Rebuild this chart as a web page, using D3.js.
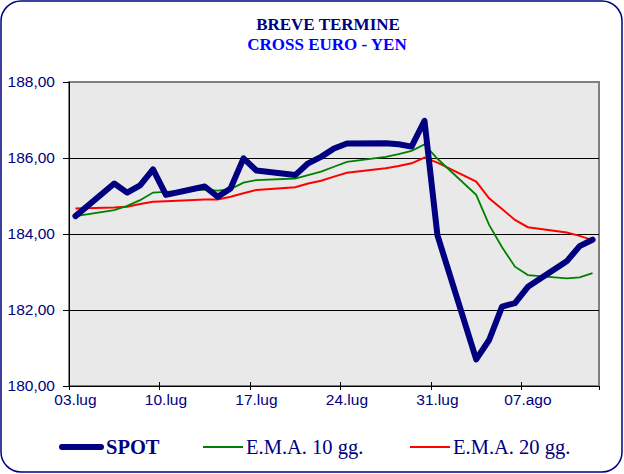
<!DOCTYPE html>
<html>
<head>
<meta charset="utf-8">
<script src="https://cdn.jsdelivr.net/npm/d3@7"></script>
<style>
  body { margin: 0; background: #fff; }
  svg { display: block; }
</style>
</head>
<body>
<div id="chart"></div>
<script>
// trading days (2026: 03 lug is a Friday)
var dates = ["2026-07-03",
  "2026-07-06", "2026-07-07", "2026-07-08", "2026-07-09", "2026-07-10",
  "2026-07-13", "2026-07-14", "2026-07-15", "2026-07-16", "2026-07-17",
  "2026-07-20", "2026-07-21", "2026-07-22", "2026-07-23", "2026-07-24",
  "2026-07-27", "2026-07-28", "2026-07-29", "2026-07-30", "2026-07-31",
  "2026-08-03", "2026-08-04", "2026-08-05", "2026-08-06", "2026-08-07",
  "2026-08-10", "2026-08-11", "2026-08-12"];

var spot = [184.47,
  185.33, 185.09, 185.28, 185.70, 185.03,
  185.25, 184.98, 185.20, 185.99, 185.67,
  185.55, 185.86, 186.03, 186.25, 186.38,
  186.39, 186.36, 186.30, 186.98, 183.97,
  180.70, 181.21, 182.09, 182.18, 182.61,
  183.28, 183.68, 183.85];

var ema10 = [184.47,
  184.63, 184.74, 184.89, 185.09, 185.11,
  185.17, 185.14, 185.18, 185.35, 185.42,
  185.46, 185.55, 185.64, 185.77, 185.90,
  186.03, 186.10, 186.19, 186.36, 185.98,
  185.03, 184.24, 183.65, 183.14, 182.92,
  182.83, 182.86, 182.97];

var ema20 = [184.67,
  184.70, 184.72, 184.79, 184.85, 184.86,
  184.91, 184.91, 184.98, 185.07, 185.16,
  185.23, 185.33, 185.40, 185.51, 185.61,
  185.73, 185.79, 185.86, 186.01, 185.88,
  185.38, 184.94, 184.66, 184.37, 184.18,
  184.04, 183.95, 183.84];

var xTickDates = ["2026-07-03", "2026-07-10", "2026-07-17", "2026-07-24", "2026-07-31", "2026-08-07"];
var xTickLabels = ["03.lug", "10.lug", "17.lug", "24.lug", "31.lug", "07.ago"];
var yTicks = [180, 182, 184, 186, 188];

var seriesNames = ["SPOT", "E.M.A. 10 gg.", "E.M.A. 20 gg."];
var seriesColors = ["#000080", "#008000", "#ff0000"];

var width = 624, height = 474;
var plot = {left: 69, right: 599, top: 82, bottom: 386};

var parse = d3.utcParse("%Y-%m-%d");
var days = dates.map(parse);

var svg = d3.select("#chart").append("svg")
  .attr("width", width)
  .attr("height", height);

// outer frame
svg.append("rect")
  .attr("x", 1).attr("y", 1)
  .attr("width", width - 3).attr("height", height - 3)
  .attr("rx", 20).attr("ry", 20)
  .attr("fill", "#fff")
  .attr("stroke", "#000080")
  .attr("stroke-width", 1.5);

// title
var title = svg.append("text")
  .attr("text-anchor", "middle")
  .attr("font-family", "'Liberation Serif', 'Times New Roman', serif")
  .attr("font-weight", "bold")
  .attr("font-size", "17px");
title.append("tspan").attr("x", 328).attr("y", 30).attr("fill", "#000080").text("BREVE TERMINE");
title.append("tspan").attr("x", 327).attr("y", 50).attr("fill", "#0000ff").text("CROSS EURO - YEN");

// scales
var x = d3.scaleUtc()
  .domain([parse("2026-07-03"), parse("2026-08-13")])
  .range([plot.left, plot.right]);
var y = d3.scaleLinear()
  .domain([180, 188])
  .range([plot.bottom, plot.top]);

// points sit in the middle of their day
function mid(d) { return d3.utcHour.offset(d, 12); }

// plot background
svg.append("rect")
  .attr("x", plot.left).attr("y", plot.top)
  .attr("width", plot.right - plot.left)
  .attr("height", plot.bottom - plot.top)
  .attr("fill", "#e9e9e9")
  .attr("stroke", "#808080")
  .attr("stroke-width", 2);

// gridlines
svg.append("g")
  .attr("shape-rendering", "crispEdges")
  .selectAll("line")
  .data(yTicks.slice(1, -1))
  .enter()
  .append("line")
  .attr("x1", plot.left).attr("x2", plot.right)
  .attr("y1", function(d) { return y(d); })
  .attr("y2", function(d) { return y(d); })
  .attr("stroke", "#000")
  .attr("stroke-width", 1);

var it = d3.formatLocale({decimal: ",", thousands: ".", grouping: [3], currency: ["", "€"]});
var fmt = it.format(".2f");

// y axis
var yAxis = svg.append("g")
  .attr("transform", "translate(" + plot.left + ",0)")
  .attr("shape-rendering", "crispEdges")
  .call(d3.axisLeft(y).tickValues(yTicks).tickSize(6).tickPadding(8).tickFormat(fmt));
yAxis.select(".domain").attr("stroke", "#000").attr("stroke-width", 1.5);
yAxis.selectAll(".tick line").attr("stroke", "#000").attr("stroke-width", 1);
yAxis.selectAll("text")
  .attr("font-family", "'Liberation Sans', Arial, sans-serif")
  .attr("font-size", "15.5px")
  .attr("fill", "#000080");

// x axis
var xAxis = svg.append("g")
  .attr("transform", "translate(0," + plot.bottom + ")")
  .attr("shape-rendering", "crispEdges")
  .call(d3.axisBottom(x).tickValues(xTickDates.map(parse)).tickSize(4).tickFormat(""));
xAxis.select(".domain").attr("stroke", "#000").attr("stroke-width", 1.5);
xAxis.selectAll(".tick line").attr("y1", -4).attr("stroke", "#000").attr("stroke-width", 1);

svg.append("g")
  .selectAll("text")
  .data(xTickDates)
  .enter()
  .append("text")
  .attr("x", function(d) { return x(mid(parse(d))); })
  .attr("y", plot.bottom + 19)
  .attr("text-anchor", "middle")
  .attr("font-family", "'Liberation Sans', Arial, sans-serif")
  .attr("font-size", "15.5px")
  .attr("fill", "#000080")
  .text(function(d, i) { return xTickLabels[i]; });

// lines
var line = d3.line()
  .x(function(d, i) { return x(mid(days[i])); })
  .y(function(d) { return y(d); });

svg.append("path")
  .datum(ema20)
  .attr("d", line)
  .attr("fill", "none")
  .attr("stroke", seriesColors[2])
  .attr("stroke-width", 2);

svg.append("path")
  .datum(ema10)
  .attr("d", line)
  .attr("fill", "none")
  .attr("stroke", seriesColors[1])
  .attr("stroke-width", 1.8);

svg.append("path")
  .datum(spot)
  .attr("d", line)
  .attr("fill", "none")
  .attr("stroke", seriesColors[0])
  .attr("stroke-width", 6)
  .attr("stroke-linejoin", "round")
  .attr("stroke-linecap", "round");

// legend
var legendItems = [
  {x: 60, w: 43, sw: 6, bold: true},
  {x: 203, w: 40, sw: 2, bold: false},
  {x: 410, w: 40, sw: 2, bold: false}
];
var legendY = 447;
var legend = svg.append("g");
legend.selectAll("line")
  .data(legendItems)
  .enter()
  .append("line")
  .attr("x1", function(d) { return d.x + (d.bold ? 2 : 0); })
  .attr("x2", function(d) { return d.x + d.w - (d.bold ? 2 : 0); })
  .attr("y1", legendY).attr("y2", legendY)
  .attr("stroke", function(d, i) { return seriesColors[i]; })
  .attr("stroke-width", function(d) { return d.sw; })
  .attr("stroke-linecap", function(d) { return d.bold ? "round" : "butt"; });
legend.selectAll("text")
  .data(legendItems)
  .enter()
  .append("text")
  .attr("x", function(d) { return d.x + d.w + 3; })
  .attr("y", legendY + 7)
  .attr("font-family", "'Liberation Serif', 'Times New Roman', serif")
  .attr("font-size", "20.5px")
  .attr("font-weight", function(d) { return d.bold ? "bold" : "normal"; })
  .attr("fill", "#000080")
  .text(function(d, i) { return seriesNames[i]; });
</script>
</body>
</html>
